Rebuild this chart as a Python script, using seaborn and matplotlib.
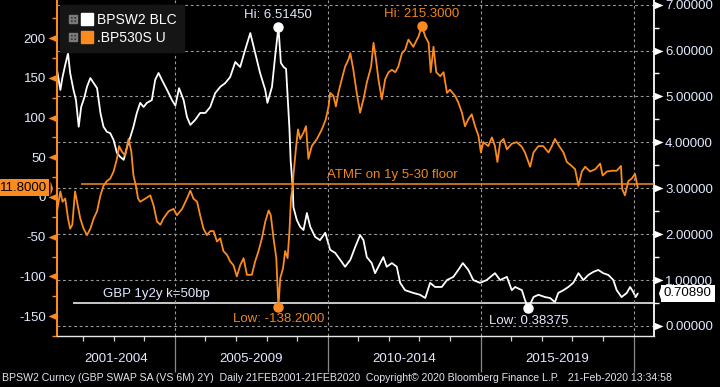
import numpy as np
import matplotlib
matplotlib.use("Agg")
import matplotlib.pyplot as plt
import seaborn as sns
from matplotlib.path import Path
from matplotlib.lines import Line2D
from matplotlib.legend_handler import HandlerTuple
from matplotlib.transforms import blended_transform_factory, ScaledTranslation

# ---------------- data ----------------
swap_name = "BPSW2 BLC"
floor_name = ".BP530S U"

swap_t = [2001.15, 2001.26, 2001.33, 2001.42, 2001.51, 2001.58, 2001.69, 2001.77, 2001.86, 2001.94,
          2002.05, 2002.13, 2002.24, 2002.35, 2002.46, 2002.57, 2002.67, 2002.78, 2002.89, 2003.00,
          2003.11, 2003.22, 2003.33, 2003.44, 2003.55, 2003.65, 2003.76, 2003.87, 2003.98, 2004.09,
          2004.25, 2004.36, 2004.47, 2004.58, 2004.75, 2004.91, 2005.02, 2005.14, 2005.29, 2005.40,
          2005.51, 2005.67, 2005.83, 2006.00, 2006.16, 2006.32, 2006.49, 2006.65, 2006.81, 2006.98,
          2007.14, 2007.30, 2007.47, 2007.63, 2007.79, 2007.96, 2008.03, 2008.18, 2008.28, 2008.39,
          2008.47, 2008.56, 2008.64, 2008.69, 2008.75, 2008.79, 2008.86, 2008.88, 2008.99, 2009.10,
          2009.21, 2009.32, 2009.43, 2009.59, 2009.75, 2009.92, 2010.08, 2010.25, 2010.41, 2010.57,
          2010.74, 2010.90, 2011.06, 2011.17, 2011.28, 2011.44, 2011.55, 2011.72, 2011.82, 2011.93,
          2012.10, 2012.26, 2012.37, 2012.53, 2012.66, 2012.80, 2013.02, 2013.19, 2013.35, 2013.51,
          2013.73, 2013.90, 2014.11, 2014.27, 2014.42, 2014.60, 2014.76, 2014.98, 2015.20, 2015.47,
          2015.64, 2015.86, 2016.02, 2016.13, 2016.35, 2016.45, 2016.56, 2016.73, 2016.89, 2017.11,
          2017.27, 2017.43, 2017.54, 2017.71, 2017.87, 2018.03, 2018.20, 2018.36, 2018.52, 2018.69,
          2018.85, 2019.01, 2019.18, 2019.34, 2019.45, 2019.61, 2019.78, 2019.89, 2019.99, 2020.07, 2020.14]
swap_v = [5.58, 5.14, 5.42, 5.69, 5.94, 5.51, 5.14, 4.92, 4.34, 4.77,
          4.99, 5.21, 5.40, 5.29, 5.18, 4.64, 4.34, 4.23, 4.20, 4.05,
          3.77, 3.68, 3.62, 3.90, 4.12, 4.34, 4.64, 4.86, 4.77, 4.86,
          4.92, 5.36, 5.51, 5.36, 5.14, 4.92, 4.80, 5.18, 4.92, 4.55,
          4.38, 4.49, 4.64, 4.64, 4.77, 5.07, 5.21, 5.29, 5.42, 5.75,
          5.64, 6.01, 6.38, 5.95, 5.51, 5.14, 4.86, 5.21, 5.86, 6.5145,
          5.73, 5.64, 5.60, 5.00, 4.30, 3.60, 3.00, 2.59, 2.31, 2.16,
          2.09, 2.46, 2.16, 1.94, 1.87, 2.03, 1.66, 1.59, 1.44, 1.29,
          1.44, 1.72, 1.98, 1.87, 1.50, 1.37, 1.15, 1.37, 1.50, 1.29,
          1.37, 1.29, 0.94, 0.78, 0.75, 0.72, 0.68, 0.61, 0.94, 0.85,
          0.85, 1.00, 1.07, 1.22, 1.37, 1.22, 1.00, 0.94, 1.00, 1.15,
          1.00, 1.07, 0.78, 0.85, 0.78, 0.57, 0.38375, 0.63, 0.68, 0.63,
          0.61, 0.52, 0.72, 0.78, 0.85, 0.94, 1.15, 1.00, 1.11, 1.18,
          1.22, 1.15, 1.11, 1.00, 0.78, 0.63, 0.72, 0.85, 0.74, 0.63, 0.7089]

floor_t = [2001.15, 2001.26, 2001.33, 2001.42, 2001.51, 2001.58, 2001.65, 2001.74, 2001.83, 2001.91,
           2002.02, 2002.13, 2002.24, 2002.35, 2002.46, 2002.57, 2002.67, 2002.78, 2002.89, 2003.00,
           2003.11, 2003.18, 2003.27, 2003.38, 2003.49, 2003.58, 2003.65, 2003.73, 2003.80, 2003.87,
           2004.04, 2004.20, 2004.31, 2004.42, 2004.53, 2004.63, 2004.80, 2004.96, 2005.07, 2005.24,
           2005.40, 2005.51, 2005.61, 2005.73, 2005.83, 2005.94, 2006.05, 2006.16, 2006.27, 2006.38,
           2006.49, 2006.59, 2006.71, 2006.81, 2006.92, 2007.03, 2007.14, 2007.25, 2007.36, 2007.52,
           2007.63, 2007.74, 2007.85, 2007.96, 2008.07, 2008.14, 2008.23, 2008.32, 2008.39, 2008.45,
           2008.54, 2008.61, 2008.69, 2008.75, 2008.80, 2008.86, 2008.88, 2008.96, 2009.03, 2009.10,
           2009.21, 2009.29, 2009.37, 2009.48, 2009.65, 2009.81, 2009.94, 2010.03, 2010.08, 2010.19,
           2010.27, 2010.35, 2010.46, 2010.57, 2010.68, 2010.74, 2010.84, 2010.95, 2011.06, 2011.17,
           2011.28, 2011.42, 2011.50, 2011.58, 2011.66, 2011.77, 2011.88, 2011.99, 2012.10, 2012.21,
           2012.31, 2012.43, 2012.53, 2012.64, 2012.80, 2012.97, 2013.08, 2013.19, 2013.30, 2013.37,
           2013.46, 2013.55, 2013.68, 2013.79, 2013.90, 2014.00, 2014.17, 2014.27, 2014.39, 2014.49,
           2014.60, 2014.71, 2014.82, 2014.93, 2015.01, 2015.09, 2015.25, 2015.37, 2015.47, 2015.55,
           2015.64, 2015.75, 2015.86, 2016.02, 2016.18, 2016.35, 2016.45, 2016.62, 2016.73, 2016.89,
           2017.05, 2017.22, 2017.33, 2017.43, 2017.57, 2017.71, 2017.82, 2017.98, 2018.09, 2018.20,
           2018.31, 2018.42, 2018.58, 2018.75, 2018.91, 2018.99, 2019.13, 2019.29, 2019.45, 2019.59,
           2019.63, 2019.72, 2019.83, 2019.94, 2020.05, 2020.10, 2020.14]
floor_v = [-18, 7, -6, -2, -27, -40, -35, 7, -11, -27,
           -40, -48, -40, -27, -18, 2, 14, 20, 23, 32,
           48, 64, 57, 52, 73, 57, 27, 14, -2, -6,
           -2, 2, -11, -31, -35, -27, -18, -15, -23, -15,
           -2, 8, -2, -6, -23, -40, -48, -43, -43, -56,
           -52, -68, -73, -81, -86, -100, -86, -77, -98, -98,
           -81, -68, -52, -31, -17, -23, -52, -77, -138.2, -102,
           -90, -68, -77, -43, -2, 14, 27, 60, 85, 73,
           81, 89, 48, 64, 73, 85, 98, 114, 131, 127,
           114, 131, 148, 164, 173, 181, 160, 131, 106, 123,
           144, 164, 194, 173, 148, 123, 148, 157, 160, 157,
           164, 181, 185, 198, 189, 202, 215.3, 202, 194, 157,
           189, 157, 152, 157, 131, 135, 127, 119, 106, 89,
           98, 104, 89, 77, 56, 69, 64, 75, 64, 44,
           69, 73, 60, 67, 69, 63, 56, 38, 56, 64,
           64, 56, 64, 73, 64, 56, 44, 39, 35, 14,
           32, 38, 32, 35, 42, 27, 32, 33, 33, 39,
           10, 2, 20, 23, 29, 19, 11.8]

periods = ["2001-2004", "2005-2009", "2010-2014", "2015-2019"]
period_bounds = [2001.15, 2005, 2010, 2015, 2020]
left_ticks = [-150, -100, -50, 0, 50, 100, 150, 200]
left_minor = [-175, -125, -75, -25, 25, 75, 125, 175, 225]
right_ticks = [0, 1, 2, 3, 4, 5, 6, 7]
right_minor = [0.5, 1.5, 2.5, 3.5, 4.5, 5.5, 6.5]
strike_level = 0.5
strike_start = 2001.68
strike_text = "GBP 1y2y k=50bp"
strike_text_t = 2002.66
atmf_level = 16.6
atmf_start = 2001.94
atmf_text = "ATMF on 1y 5-30 floor"
atmf_text_t = 2009.98
footer = ("BPSW2 Curncy (GBP SWAP SA (VS 6M) 2Y)  Daily 21FEB2001-21FEB2020  "
          "Copyright\u00a9 2020 Bloomberg Finance L.P.   21-Feb-2020 13:34:58")

assert len(swap_t) == len(swap_v) and len(floor_t) == len(floor_v)

# ---------------- style ----------------
ORANGE = "#fb8b1e"
ORANGE_TXT = "#f0871c"
LBL = "#e2eaff"
GRID = "#9a9a9a"
sns.set_theme(style="dark", rc={"axes.facecolor": "black", "figure.facecolor": "black",
                                "savefig.facecolor": "black", "text.color": LBL})
plt.rcParams["font.family"] = ["Liberation Sans", "DejaVu Sans"]

fig = plt.figure(figsize=(7.2, 3.87), dpi=100)
fig.patch.set_facecolor("black")
ax = fig.add_axes([57 / 720, 51 / 387, 597 / 720, 336 / 387])
ax2 = ax.twinx()
ax.set_zorder(3)
ax2.set_zorder(2)
ax.patch.set_visible(False)
ax2.patch.set_facecolor("black")

sns.lineplot(x=swap_t, y=swap_v, ax=ax2, color="white", lw=1.3,
             estimator=None, sort=False, legend=False)
sns.lineplot(x=floor_t, y=floor_v, ax=ax, color=ORANGE, lw=1.3,
             estimator=None, sort=False, legend=False)

ax.set_xlim(2001.15, 2020.67)
ax.set_ylim(-172.1, 247.9)
ax2.set_ylim(-0.218, 7.10)
for a in (ax, ax2):
    a.set_xlabel("")
    a.set_ylabel("")

# spines
for s in ax.spines.values():
    s.set_visible(False)
for s in ax2.spines.values():
    s.set_visible(False)
ax.spines["left"].set_visible(True)
ax.spines["left"].set_color(ORANGE)
ax.spines["left"].set_linewidth(1.5)
ax.spines["bottom"].set_visible(True)
ax.spines["bottom"].set_color("#e8e8e8")
ax.spines["bottom"].set_linewidth(1.0)
ax2.spines["right"].set_visible(True)
ax2.spines["right"].set_color("white")
ax2.spines["right"].set_linewidth(1.3)

# flag-shaped tick markers
left_flag = Path([(-1, 0), (0, 0.42), (0, -0.42), (-1, 0)],
                 [Path.MOVETO, Path.LINETO, Path.LINETO, Path.CLOSEPOLY])
right_flag = Path([(1, 0), (0, 0.42), (0, -0.42), (1, 0)],
                  [Path.MOVETO, Path.LINETO, Path.LINETO, Path.CLOSEPOLY])

ax.set_yticks(left_ticks)
ax.set_yticks(left_minor, minor=True)
ax.set_yticklabels([str(v) for v in left_ticks])
ax.tick_params(axis="y", which="major", left=True, right=False, direction="out",
               length=6.5, width=1, pad=1.5, labelsize=9.5, labelcolor=LBL, color=ORANGE)
ax.tick_params(axis="y", which="minor", left=True, right=False, direction="out",
               length=3.5, width=1, color=ORANGE)
for t in ax.yaxis.get_major_ticks():
    t.tick1line.set_marker(left_flag)
    t.tick1line.set_markersize(13)
    t.tick1line.set_markerfacecolor(ORANGE)
    t.tick1line.set_markeredgewidth(0)

ax2.set_yticks(right_ticks)
ax2.set_yticks(right_minor, minor=True)
ax2.set_yticklabels([f"{v:.5f}" for v in right_ticks])
ax2.tick_params(axis="y", which="major", right=True, left=False, direction="out",
                length=6.5, width=1, pad=1.5, labelsize=9.5, labelcolor=LBL, color="white")
ax2.tick_params(axis="y", which="minor", right=True, left=False, direction="out",
                length=3.5, width=1, color="white")
for t in ax2.yaxis.get_major_ticks():
    t.tick2line.set_marker(right_flag)
    t.tick2line.set_markersize(13)
    t.tick2line.set_markerfacecolor("white")
    t.tick2line.set_markeredgewidth(0)

# x axis: yearly ticks, long separators at period boundaries
ax.set_xticks(period_bounds[1:])
ax.set_xticks(list(range(2002, 2021)), minor=True)
ax.tick_params(axis="x", which="major", bottom=True, top=False, direction="out",
               length=26, width=0.9, color="#8a8a8a", labelbottom=False)
ax.tick_params(axis="x", which="minor", bottom=True, top=False, direction="out",
               length=3.5, width=0.9, color="#d0d0d0")

# grids
dash = (0, (2.5, 2.5))
ax.grid(False)
ax.grid(axis="x", which="major", color=GRID, ls=dash, lw=0.8)
ax2.grid(False)
ax2.grid(axis="y", which="major", color=GRID, ls=dash, lw=0.8)

# period labels
tr = blended_transform_factory(ax.transData, ax.transAxes)
for lab, a, b in zip(periods, period_bounds[:-1], period_bounds[1:]):
    ax.text((a + b) / 2, -23 / 336, lab, transform=tr, ha="center", va="center",
            color=LBL, fontsize=9.5, clip_on=False)

# reference lines + texts
ax.hlines(atmf_level, atmf_start, 2020.67, color=ORANGE, lw=1.1)
ax.annotate(atmf_text, (atmf_text_t, atmf_level), xytext=(0, 4), textcoords="offset points",
            ha="left", va="baseline", color=ORANGE_TXT, fontsize=9.5)
ax2.hlines(strike_level, strike_start, 2020.67, color="white", lw=1.1)
ax2.annotate(strike_text, (strike_text_t, strike_level), xytext=(0, 4), textcoords="offset points",
             ha="left", va="baseline", color=LBL, fontsize=9.5)

# hi / low markers
i_hi = int(np.argmax(swap_v)); i_lo = int(np.argmin(swap_v))
j_hi = int(np.argmax(floor_v)); j_lo = int(np.argmin(floor_v))
ax2.plot([swap_t[i_hi], swap_t[i_lo]], [swap_v[i_hi], swap_v[i_lo]], "o", color="white", ms=6.5)
ax.plot([floor_t[j_hi], floor_t[j_lo]], [floor_v[j_hi], floor_v[j_lo]], "o", color=ORANGE, ms=6.5)
ax2.annotate(f"Hi: {swap_v[i_hi]:.5f}", (swap_t[i_hi], swap_v[i_hi]), xytext=(0, 4.5),
             textcoords="offset points", ha="center", va="bottom", color=LBL, fontsize=9.5)
ax2.annotate(f"Low: {swap_v[i_lo]:.5f}", (swap_t[i_lo], swap_v[i_lo]), xytext=(0, -4.5),
             textcoords="offset points", ha="center", va="top", color=LBL, fontsize=9.5)
ax.annotate(f"Hi: {floor_v[j_hi]:.4f}", (floor_t[j_hi], floor_v[j_hi]), xytext=(0, 4.5),
            textcoords="offset points", ha="center", va="bottom", color=ORANGE_TXT, fontsize=9.5)
ax.annotate(f"Low: {floor_v[j_lo]:.4f}", (floor_t[j_lo], floor_v[j_lo]), xytext=(0, -4.5),
            textcoords="offset points", ha="center", va="top", color=ORANGE_TXT, fontsize=9.5)

# last-value badges
tip_r = Path([(0.35, 0), (0, 1), (0, -1), (0.35, 0)],
             [Path.MOVETO, Path.LINETO, Path.LINETO, Path.CLOSEPOLY])
tip_l = Path([(-0.35, 0), (0, 1), (0, -1), (-0.35, 0)],
             [Path.MOVETO, Path.LINETO, Path.LINETO, Path.CLOSEPOLY])
last_f = floor_v[-1]
last_s = swap_v[-1]
ax.annotate(f"{last_f:.4f}", xy=(0, last_f), xycoords=("axes fraction", "data"),
            xytext=(-7.5, 0), textcoords="offset points", ha="right", va="center",
            fontsize=9.5, color="black", annotation_clip=False,
            bbox=dict(boxstyle="square,pad=0.22", fc=ORANGE, ec="none"))
trL = blended_transform_factory(ax.transAxes, ax.transData) + \
    ScaledTranslation(-5.4 / 72, 0, fig.dpi_scale_trans)
ax.plot([0], [last_f], transform=trL, marker=tip_r, ms=10.5, color=ORANGE, mew=0, clip_on=False)
ax2.annotate(f"{last_s:.5f}", xy=(1, last_s), xycoords=("axes fraction", "data"),
             xytext=(7, 0), textcoords="offset points", ha="left", va="center",
             fontsize=9.5, color="black", annotation_clip=False,
             bbox=dict(boxstyle="square,pad=0.22", fc="white", ec="none"))
trR = blended_transform_factory(ax2.transAxes, ax2.transData) + \
    ScaledTranslation(4.9 / 72, 0, fig.dpi_scale_trans)
ax2.plot([1], [last_s], transform=trR, marker=tip_l, ms=10.5, color="white", mew=0, clip_on=False)

# legend
icon = r"$\boxplus$"
h1 = (Line2D([], [], marker=icon, color="#7a7a7a", ls="none", ms=5.5),
      Line2D([], [], marker="s", color="white", ls="none", ms=9))
h2 = (Line2D([], [], marker=icon, color="#7a7a7a", ls="none", ms=5.5),
      Line2D([], [], marker="s", color=ORANGE, ls="none", ms=9))
leg = ax.legend([h1, h2], [swap_name, floor_name],
                handler_map={tuple: HandlerTuple(ndivide=None, pad=0.3)},
                loc="upper left", bbox_to_anchor=(0.005, 0.985), borderaxespad=0,
                frameon=True, fancybox=False, facecolor="#151515", edgecolor="#151515",
                framealpha=1, fontsize=10, labelcolor="white", handlelength=1.8,
                handletextpad=0.3, borderpad=0.55, labelspacing=0.3)

fig.text(0.003, 9 / 387, footer, fontsize=7.6, color="#dfe4ee", ha="left", va="center")

fig.savefig("out.png", dpi=100, facecolor="black")
